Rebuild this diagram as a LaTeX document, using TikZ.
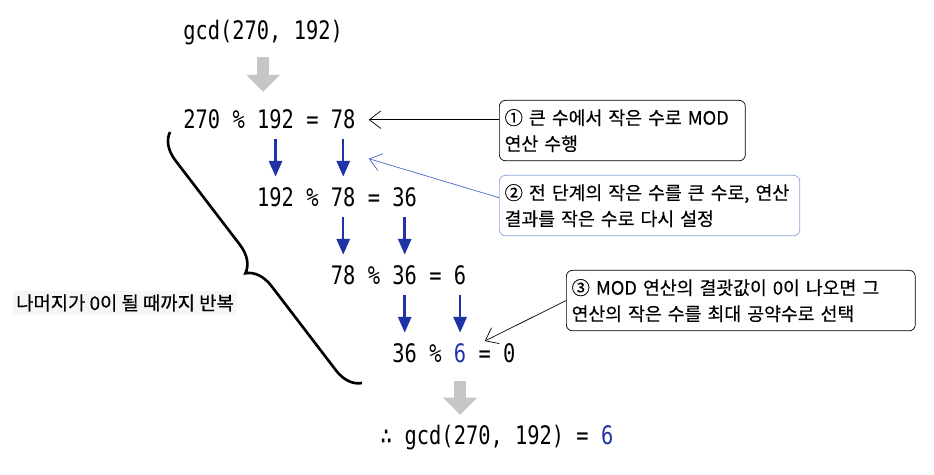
\documentclass[tikz,border=0pt]{standalone}
\usepackage{fontspec}
\setmonofont[FakeStretch=0.8]{DejaVu Sans Mono}
\newfontfamily\krfont[FakeBold=0.4]{Noto Sans CJK KR}
\usetikzlibrary{arrows.meta, calc, decorations.pathreplacing}
\definecolor{navy}{HTML}{1F33A6}
\definecolor{memoblue}{HTML}{8FA6DA}
\definecolor{lineblue}{HTML}{4A68C4}
\newcommand{\codefont}{\fontsize{14.5pt}{17pt}\selectfont\ttfamily}
\tikzset{
  tok/.style={font=\codefont, inner sep=0pt, anchor=base west},
  stepdown/.style={navy, line width=1.4pt, -{Triangle[length=9pt, width=7.5pt]}, shorten <=5.4pt, shorten >=6.3pt},
  bigdown/.style={gray!45, line width=6.8pt, -{Triangle[length=9.7pt, width=18.8pt]}},
  memo/.style={draw, rounded corners=3.5pt, align=left, anchor=north west, font=\krfont\fontsize{10.4pt}{14.8pt}\selectfont, inner xsep=3pt, inner ysep=5pt},
  pointer/.style={thin, -{Straight Barb[length=6.5pt, width=10pt]}}
}
\begin{document}
\begin{tikzpicture}[x=0.02cm, y=-0.02cm]
\useasboundingbox (0,0) rectangle (934,475);
% start and result
\node[tok] (gcd) at (183,40) {gcd(270, 192)};
\node[tok] (res) at (379.8,445) {∴ gcd(270, 192) = \textcolor{navy}{6}};
% row 1
\node[tok] (r1a) at (183.0,129) {270};
\node[tok] (r1b) at (232.2,129) {\%};
\node[tok] (r1c) at (256.8,129) {192};
\node[tok] (r1d) at (306.0,129) {=};
\node[tok] (r1e) at (330.6,129) {78};
% row 2
\node[tok] (r2a) at (256.8,207) {192};
\node[tok] (r2b) at (306.0,207) {\%};
\node[tok] (r2c) at (330.6,207) {78};
\node[tok] (r2d) at (367.5,207) {=};
\node[tok] (r2e) at (392.1,207) {36};
% row 3
\node[tok] (r3a) at (330.6,285) {78};
\node[tok] (r3b) at (367.5,285) {\%};
\node[tok] (r3c) at (392.1,285) {36};
\node[tok] (r3d) at (429.0,285) {=};
\node[tok] (r3e) at (453.6,285) {6};
% row 4
\node[tok] (r4a) at (392.1,363) {36};
\node[tok] (r4b) at (429.0,363) {\%};
\node[tok, text=navy] (r4c) at (453.6,363) {6};
\node[tok] (r4d) at (478.2,363) {=};
\node[tok] (r4e) at (502.8,363) {0};
% big gray arrows
\draw[bigdown, shorten <=6.3pt, shorten >=10.2pt] (gcd.south) -- (gcd.south |- r1a.north);
\draw[bigdown, shorten <=9.7pt, shorten >=6pt] (r4c.south) -- (r4c.south |- res.north);
% number hand-over
\draw[stepdown] (r1c.south) -- (r2a.north);
\draw[stepdown] (r1e.south) -- (r2c.north);
\draw[stepdown] (r2c.south) -- (r3a.north);
\draw[stepdown] (r2e.south) -- (r3c.north);
\draw[stepdown] (r3c.south) -- (r4a.north);
\draw[stepdown] (r3e.south) -- (r4c.north);
% loop brace
\draw[decorate, decoration={brace, amplitude=14.8pt}, line width=1.5pt] (362,383) -- (170,132);
\node[font=\krfont\fontsize{10.7pt}{12pt}\selectfont, fill=gray!7, inner sep=2pt] (loop) at (125,303) {나머지가 0이 될 때까지 반복};
% notes
\node[memo, text width=134pt] (box1) at (499,100) {① 큰 수에서 작은 수로 MOD\\연산 수행};
\node[memo, draw=memoblue, text width=165pt] (box2) at (499,175) {② 전 단계의 작은 수를 큰 수로, 연산\\결과를 작은 수로 다시 설정};
\node[memo, text width=192.6pt] (box3) at (566,270) {③ MOD 연산의 결괏값이 0이 나오면 그\\연산의 작은 수를 최대 공약수로 선택};
\draw[pointer, shorten >=7.4pt] (box1.west |- r1e.east) -- (r1e.east);
\draw[pointer, lineblue] (box2.177) -- ($(r1e.east)!.5!(r2c.east)+(13,0)$);
\draw[pointer] (box3.west) -- ($(r4d.north)+(0,-10)$);
\end{tikzpicture}
\end{document}
